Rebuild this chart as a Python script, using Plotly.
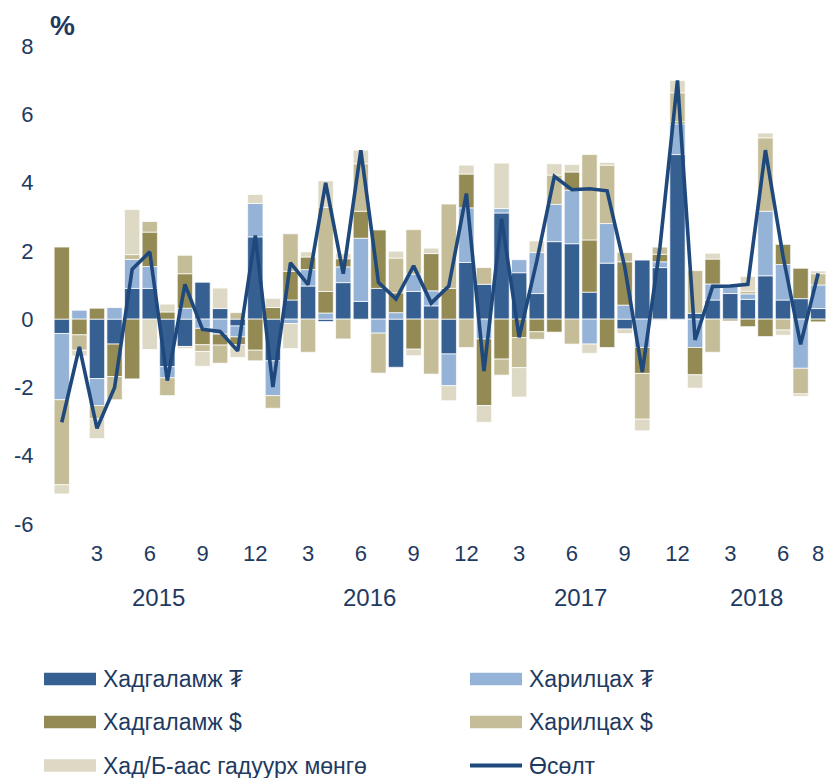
import plotly.graph_objects as go

# ---- data (Jan 2015 .. Aug 2018, monthly contributions, %) ----
months = list(range(1, 45))
savings_mnt = [-0.42, 0.00, -1.74, -0.73, 0.90, 0.90, -1.39, -0.80, 1.08, 0.31, -0.20, 2.41,
               -1.22, 0.56, 0.97, -0.07, 1.07, 0.52, 0.90, -1.41, 0.81, 0.39, -1.02, 1.66,
               1.02, 3.11, 1.36, 0.75, 2.27, 2.21, 0.79, 1.64, -0.29, 1.73, 1.51, 4.82,
               0.17, 0.56, 0.75, 0.58, 1.27, 0.56, 0.60, 0.31]
current_mnt = [-1.94, 0.26, -0.79, 0.34, 0.85, 0.64, -0.33, 0.32, -0.27, -0.44, -0.32, 0.98,
               -1.02, -0.13, 0.48, 0.18, 0.46, 1.85, -0.41, 0.19, 0.51, 0.44, -0.93, 1.60,
               -0.58, 0.13, 0.38, 1.20, 1.09, 1.57, -0.73, 1.16, 0.41, -0.83, 0.17, 0.90,
               -0.83, 0.47, 0.25, 0.16, 1.89, 1.04, -1.44, 0.69]
savings_usd = [2.11, -0.46, 0.32, -0.95, -1.75, 1.01, 0.21, 1.01, -0.48, -0.32, -0.23, -0.91,
               0.34, 0.84, 0.37, 0.63, 0.24, 0.79, 1.72, 0.58, -0.88, 1.09, 0.90, 0.99,
               -1.95, -1.17, -0.54, -0.37, -0.38, 0.53, 1.53, -0.83, 1.27, -0.76, 0.22, 0.06,
               -0.80, 0.73, -0.05, -0.22, -0.51, 0.59, 0.89, -0.08]
current_usd = [-2.49, -0.45, -0.39, -0.68, 0.14, 0.31, -0.52, 0.54, -0.20, -0.53, 0.19, -0.31,
               -0.37, 1.10, -0.97, 2.46, -0.58, 1.39, -1.17, 1.02, 1.30, -1.61, 2.47, -0.83,
               0.49, -0.47, -0.88, -0.22, 0.86, -0.73, 2.50, 1.71, 0.27, -1.34, 0.21, 0.85,
               1.25, -0.97, 0.00, 0.08, 2.15, -0.32, -0.75, 0.33]
outside_banks = [-0.27, -0.17, -0.58, 0.02, 1.32, -0.89, 0.23, -0.06, -0.43, 0.60, -0.37, 0.26,
                 0.27, -0.73, 0.15, 0.78, 0.15, 0.40, 0.00, 0.20, -0.19, 0.16, -0.44, 0.26,
                 -0.49, 1.33, -0.86, 0.34, 0.33, 0.22, -0.27, 0.08, -0.13, -0.34, -0.04, 0.36,
                 -0.39, 0.17, 0.00, 0.43, 0.14, -0.15, -0.07, 0.08]
growth = [-3.02, -0.81, -3.20, -2.00, 1.46, 1.97, -1.80, 1.02, -0.30, -0.36, -0.93, 2.45,
          -1.99, 1.65, 1.01, 3.99, 1.33, 4.95, 1.08, 0.59, 1.56, 0.47, 0.97, 3.68,
          -1.52, 2.94, -0.53, 1.70, 4.18, 3.79, 3.82, 3.76, 1.53, -1.55, 2.10, 6.99,
          -0.61, 0.96, 0.97, 1.02, 4.95, 1.85, -0.74, 1.34]

tick_vals = [3, 6, 9, 12, 15, 18, 21, 24, 27, 30, 33, 36, 39, 42, 44]
tick_text = ["3", "6", "9", "12", "3", "6", "9", "12", "3", "6", "9", "12", "3", "6", "8"]
y_tick_vals = [-6, -4, -2, 0, 2, 4, 6, 8]
y_tick_text = ["-6", "-4", "-2", "0", "2", "4", "6", "8"]
years = ["2015", "2016", "2017", "2018"]
year_pos = [6.5, 18.5, 30.5, 40.5]

names = ["Хадгаламж ₮", "Харилцах ₮", "Хадгаламж $", "Харилцах $",
         "Хад/Б-аас гадуурх мөнгө", "Өсөлт"]
colors = ["#376092", "#95B3D7", "#948A54", "#C4BD97", "#DDD9C4", "#1F497D"]
series = [savings_mnt, current_mnt, savings_usd, current_usd, outside_banks]

TXT = "#1F3A60"
FONT = "Liberation Sans, Arial, sans-serif"

W, H = 828, 778
L, R, T, B = 53, 1, 46, 254
pw, ph = W - L - R, H - T - B


def px_x(px):
    return (px - L) / pw


def px_y(py):
    return (H - B - py) / ph


fig = go.Figure()
for s, n, c in zip(series, names[:5], colors[:5]):
    fig.add_trace(go.Bar(x=months, y=s, name=n, marker_color=c,
                         marker_line_color="rgba(255,255,255,0.7)", marker_line_width=1,
                         showlegend=False))
fig.add_trace(go.Scatter(x=months, y=growth, name=names[5], mode="lines",
                         line=dict(color=colors[5], width=3.6), showlegend=False))

shapes = []
annotations = []
# custom legend (two columns, three rows)
rows_py = [679, 722, 765.5]
cols = [(44, 96, 101), (470, 522, 527)]
for i, (n, c) in enumerate(zip(names, colors)):
    r, col = divmod(i, 2)
    x0, x1, xt = cols[col]
    yc = rows_py[r]
    if i < 5:
        shapes.append(dict(type="rect", xref="paper", yref="paper",
                           x0=px_x(x0), x1=px_x(x1), y0=px_y(yc + 6.2), y1=px_y(yc - 6.2),
                           fillcolor=c, line=dict(width=0)))
    else:
        shapes.append(dict(type="line", xref="paper", yref="paper",
                           x0=px_x(x0), x1=px_x(x1), y0=px_y(yc), y1=px_y(yc),
                           line=dict(color=c, width=4)))
    annotations.append(dict(text=n, xref="paper", yref="paper", x=px_x(xt), y=px_y(yc),
                            xanchor="left", yanchor="middle", showarrow=False,
                            font=dict(size=23, color=TXT, family=FONT)))

for yr, xp in zip(years, year_pos):
    annotations.append(dict(text=yr, xref="x", yref="paper", x=xp, y=px_y(597),
                            xanchor="center", yanchor="middle", showarrow=False,
                            font=dict(size=24, color=TXT, family=FONT)))

annotations.append(dict(text="<b>%</b>", xref="paper", yref="paper", x=px_x(62), y=px_y(25),
                        xanchor="center", yanchor="middle", showarrow=False,
                        font=dict(size=28, color=TXT, family=FONT)))

fig.update_layout(
    width=W, height=H,
    margin=dict(l=L, r=R, t=T, b=B, pad=0),
    paper_bgcolor="white", plot_bgcolor="white",
    barmode="relative", bargap=0.13,
    font=dict(family=FONT, color=TXT, size=22),
    shapes=shapes, annotations=annotations,
    showlegend=False,
)
fig.update_xaxes(range=[0.5, 44.5], tickmode="array", tickvals=tick_vals, ticktext=tick_text,
                 showgrid=False, zeroline=False, showline=False,
                 ticks="outside", ticklen=10, tickcolor="rgba(0,0,0,0)",
                 tickfont=dict(size=22, color=TXT, family=FONT))
fig.update_yaxes(range=[-6, 8], tickmode="array", tickvals=y_tick_vals, ticktext=y_tick_text,
                 showgrid=False, zeroline=False,
                 showline=False, ticks="outside", ticklen=14, tickcolor="rgba(0,0,0,0)",
                 tickfont=dict(size=22, color=TXT, family=FONT))

fig.write_html("out.html", config={"displayModeBar": False},
               post_script="document.body.style.margin='0';document.body.style.overflow='hidden';")
